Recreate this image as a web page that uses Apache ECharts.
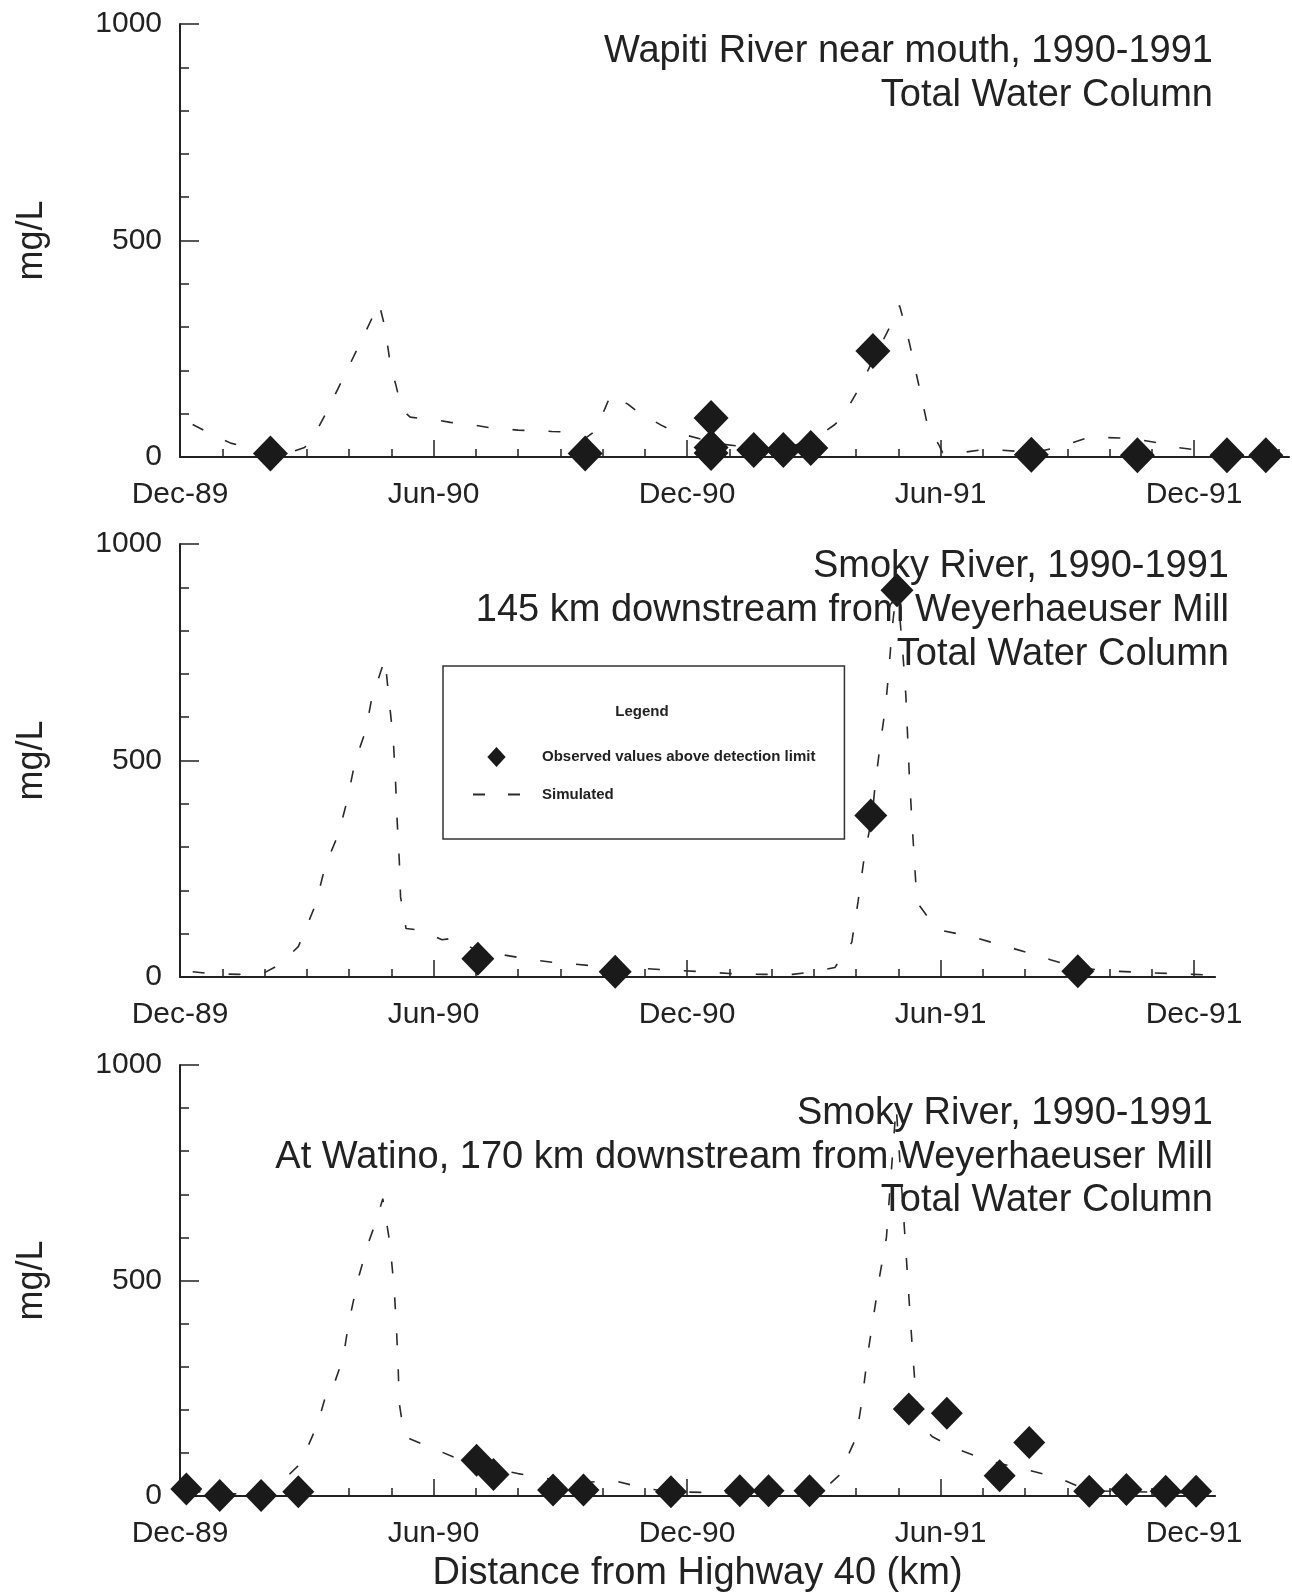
<!DOCTYPE html>
<html>
<head>
<meta charset="utf-8">
<script src="https://cdn.jsdelivr.net/npm/echarts@6/dist/echarts.min.js"></script>
<style>
  html, body { margin: 0; padding: 0; background: #ffffff; }
  #chart { width: 1292px; height: 1594px; }
</style>
</head>
<body>
<div id="chart"></div>
<script>
// Time is measured in months after 1 December 1989.
const tickMonths = [0, 6, 12, 18, 24];
const tickLabels = ['Dec-89', 'Jun-90', 'Dec-90', 'Jun-91', 'Dec-91'];

// Wapiti River near mouth
const wapitiObsMonth = [2.14, 9.59, 12.57, 12.57, 12.57, 13.58, 14.28, 14.93, 16.4, 20.15, 22.66, 24.78, 25.7];
const wapitiObsMgL   = [8, 8, 90, 22, 9, 16, 16, 21, 245, 5, 4, 4, 4];
const wapitiSimMonth = [0.3, 0.7, 1.2, 1.5, 2.1, 2.6, 2.95, 3.15, 3.45, 3.9, 4.3, 4.71, 4.85, 5.0, 5.1, 5.25, 5.45, 6.1, 6.4, 7.0,
  7.3, 8.0, 8.8, 9.1, 9.55, 9.8, 10.05, 10.2, 10.6, 10.85, 11.4, 11.7, 12.3, 12.8, 13.5, 14.3, 15.0, 15.5, 15.7, 16.05,
  16.85, 17.03, 17.2, 17.3, 17.5, 17.7, 17.95, 18.05, 18.4, 19.0, 19.3, 20.2, 20.8, 21.5, 21.9, 22.5, 22.7, 23.3, 23.6, 24.1, 24.4];
const wapitiSimMgL = [75, 55, 32, 25, 12, 10, 22, 45, 100, 190, 270, 355, 300, 200, 170, 110, 92, 85, 80, 73,
  68, 62, 59, 58, 40, 58, 110, 145, 122, 103, 73, 58, 42, 30, 22, 20, 40, 75, 95, 155,
  310, 350, 290, 248, 160, 70, 30, 10, 9, 17, 17, 10, 23, 45, 45, 43, 40, 30, 22, 16, 8];

// Smoky River, 145 km downstream
const smoky145ObsMonth = [7.05, 10.3, 16.35, 16.97, 21.25];
const smoky145ObsMgL   = [42, 12, 373, 893, 13];
const smoky145SimMonth = [0.3, 0.7, 1.4, 2.0, 2.35, 2.8, 3.2, 3.45, 3.75, 3.95, 4.15, 4.4, 4.55, 4.7, 4.85, 4.95, 5.05, 5.1, 5.14, 5.19,
  5.22, 5.35, 5.7, 6.2, 6.5, 7.0, 7.9, 8.3, 8.9, 9.3, 10.0, 10.6, 11.4, 12.4, 13.0, 13.8, 14.5, 15.0, 15.5, 15.9,
  16.05, 16.2, 16.38, 16.45, 16.57, 16.7, 16.78, 16.85, 16.97, 17.1, 17.18, 17.26, 17.33, 17.42, 17.5, 17.8, 18.0, 18.6, 18.85, 19.5,
  20.3, 20.6, 21.2, 22.0, 22.9, 24.0, 24.3];
const smoky145SimMgL = [12, 8, 6, 10, 28, 70, 165, 260, 330, 405, 500, 570, 650, 690, 735, 640, 545, 455, 360, 270,
  185, 112, 108, 86, 90, 62, 47, 40, 33, 30, 24, 22, 17, 12, 8, 6, 6, 12, 22, 80,
  175, 280, 370, 440, 535, 625, 710, 800, 905, 760, 650, 470, 350, 210, 165, 125, 108, 96, 90, 72,
  50, 40, 22, 14, 10, 6, 5];

// Smoky River at Watino, 170 km downstream
const smoky170ObsMonth = [0.15, 0.94, 1.92, 2.8, 7.02, 7.42, 8.83, 9.55, 11.62, 13.25, 13.93, 14.9, 17.25, 18.15, 19.4, 20.1, 21.52, 22.4, 23.33, 24.05];
const smoky170ObsMgL   = [16, 1, 1, 10, 83, 50, 14, 14, 10, 12, 12, 12, 202, 192, 47, 124, 11, 15, 11, 11];
const smoky170SimMonth = [0.2, 1.0, 2.0, 2.35, 2.85, 3.25, 3.5, 3.62, 3.86, 4.0, 4.22, 4.45, 4.65, 4.8, 4.97, 5.07, 5.12, 5.16, 5.19, 5.3,
  5.45, 6.1, 6.6, 7.2, 8.0, 8.6, 9.4, 10.25, 11.0, 11.6, 12.5, 14.0, 15.2, 15.6, 16.0, 16.14, 16.28, 16.42, 16.56, 16.72,
  16.95, 17.15, 17.28, 17.35, 17.42, 17.6, 17.8, 18.3, 19.2, 20.0, 20.8, 21.5, 22.5, 23.5, 24.2];
const smoky170SimMgL = [12, 5, 5, 28, 75, 165, 250, 252, 320, 405, 505, 585, 640, 690, 585, 480, 395, 310, 215, 145,
  132, 106, 85, 68, 52, 42, 30, 36, 18, 10, 8, 6, 12, 48, 135, 220, 330, 420, 510, 600,
  905, 615, 420, 320, 230, 160, 138, 112, 80, 62, 42, 12, 10, 8, 6];

const FONT = '"Liberation Sans", Arial, Helvetica, sans-serif';
const INK = '#222222';
const MARK = '#1a1a1a';
const LINE = '#2a2a2a';
const OBS_NAME = 'Observed values above detection limit';
const SIM_NAME = 'Simulated';
const PX_PER_MONTH = 42.25;

const zip = (xs, ys) => xs.map((x, i) => [x, ys[i]]);

const panels = [
  { top: 24,   maxMonth: 26.25, obs: zip(wapitiObsMonth, wapitiObsMgL),     sim: zip(wapitiSimMonth, wapitiSimMgL),     symbolSize: [35, 36], xName: '' },
  { top: 544,  maxMonth: 24.5,  obs: zip(smoky145ObsMonth, smoky145ObsMgL), sim: zip(smoky145SimMonth, smoky145SimMgL), symbolSize: [33, 34], xName: '' },
  { top: 1065, maxMonth: 24.5,  obs: zip(smoky170ObsMonth, smoky170ObsMgL), sim: zip(smoky170SimMonth, smoky170SimMgL), symbolSize: [32, 33], xName: 'Distance from Highway 40 (km)' }
];

const grid = [], xAxis = [], yAxis = [], series = [];

panels.forEach((p, i) => {
  grid.push({ left: 180, top: p.top, width: p.maxMonth * PX_PER_MONTH, height: 433 });

  const monthly = [];
  for (let m = 1; m <= Math.floor(p.maxMonth); m++) if (m % 6 !== 0) monthly.push(m);

  // monthly ticks and the axis line
  xAxis.push({
    gridIndex: i, type: 'value', min: 0, max: p.maxMonth, position: 'bottom',
    axisLine: { show: true, onZero: false, lineStyle: { color: INK, width: 2 } },
    axisTick: { show: true, inside: true, length: 8, customValues: monthly, lineStyle: { color: INK, width: 1.5 } },
    axisLabel: { show: false },
    splitLine: { show: false }
  });
  // half-year ticks with month labels
  xAxis.push({
    gridIndex: i, type: 'value', min: 0, max: p.maxMonth, position: 'bottom',
    axisLine: { show: false },
    axisTick: { show: true, inside: true, length: 17, customValues: tickMonths, lineStyle: { color: INK, width: 1.5 } },
    axisLabel: {
      customValues: tickMonths,
      formatter: v => tickLabels[tickMonths.indexOf(Math.round(v))] || '',
      fontSize: 30, color: INK, fontFamily: FONT, margin: 23
    },
    splitLine: { show: false },
    name: p.xName, nameLocation: 'middle', nameGap: 59,
    nameTextStyle: { fontSize: 38, color: INK, fontFamily: FONT }
  });

  yAxis.push({
    gridIndex: i, type: 'value', min: 0, max: 1000, interval: 500,
    axisLine: { show: true, lineStyle: { color: INK, width: 2 } },
    axisTick: { show: true, inside: true, length: 19, lineStyle: { color: INK, width: 1.5 } },
    minorTick: { show: true, splitNumber: 5, length: 9, lineStyle: { color: INK, width: 1.5 } },
    axisLabel: { fontSize: 30, color: INK, fontFamily: FONT, margin: 18, formatter: v => String(v) },
    splitLine: { show: false },
    minorSplitLine: { show: false },
    name: 'mg/L', nameLocation: 'middle', nameRotate: 90, nameGap: 130,
    nameTextStyle: { fontSize: 36, color: INK, fontFamily: FONT }
  });

  series.push({
    type: 'line', name: SIM_NAME, xAxisIndex: 2 * i, yAxisIndex: i,
    data: p.sim, symbol: 'none', showSymbol: false, smooth: false, z: 2,
    itemStyle: { color: LINE },
    lineStyle: { color: LINE, width: 1.6, type: [12, 24] }
  });
  series.push({
    type: 'scatter', name: OBS_NAME, xAxisIndex: 2 * i, yAxisIndex: i,
    data: p.obs, symbol: 'diamond', symbolSize: p.symbolSize, z: 3,
    itemStyle: { color: MARK, opacity: 1 }
  });
});

const titleText = (text, x, y, lh) => ({
  type: 'text', x: x, y: y, z: 10, silent: true,
  style: { text: text, align: 'right', verticalAlign: 'top', fontSize: 38, lineHeight: lh, fontFamily: FONT, fill: INK }
});

const option = {
  animation: false,
  backgroundColor: '#ffffff',
  grid: grid,
  xAxis: xAxis,
  yAxis: yAxis,
  series: series,
  legend: {
    left: 443, top: 666, orient: 'vertical',
    padding: [81, 29, 37, 30],
    borderColor: '#333333', borderWidth: 1.5, backgroundColor: '#ffffff',
    itemWidth: 47, itemHeight: 20, itemGap: 20,
    symbolKeepAspect: true,
    textStyle: { fontSize: 15, fontWeight: 'bold', color: INK, fontFamily: FONT, padding: [0, 0, 0, 17] },
    data: [
      { name: OBS_NAME, icon: 'path://M11 0L22 12L11 24L0 12Z', itemStyle: { color: MARK } },
      { name: SIM_NAME, icon: 'path://M0 0H12V2H0Z M35 0H47V2H35Z', itemStyle: { color: LINE } }
    ]
  },
  graphic: [
    titleText('Wapiti River near mouth, 1990-1991\nTotal Water Column', 1213, 29, 44.5),
    titleText('Smoky River, 1990-1991\n145 km downstream from Weyerhaeuser Mill\nTotal Water Column', 1229, 545, 44),
    titleText('Smoky River, 1990-1991\nAt Watino, 170 km downstream from Weyerhaeuser Mill\nTotal Water Column', 1213, 1092, 43.5),
    {
      type: 'text', x: 642, y: 712, z: 10, silent: true,
      style: { text: 'Legend', align: 'center', verticalAlign: 'middle', fontSize: 15, fontWeight: 'bold', fontFamily: FONT, fill: INK }
    }
  ]
};

const chart = echarts.init(document.getElementById('chart'), null, { renderer: 'canvas' });
chart.setOption(option);
</script>
</body>
</html>
